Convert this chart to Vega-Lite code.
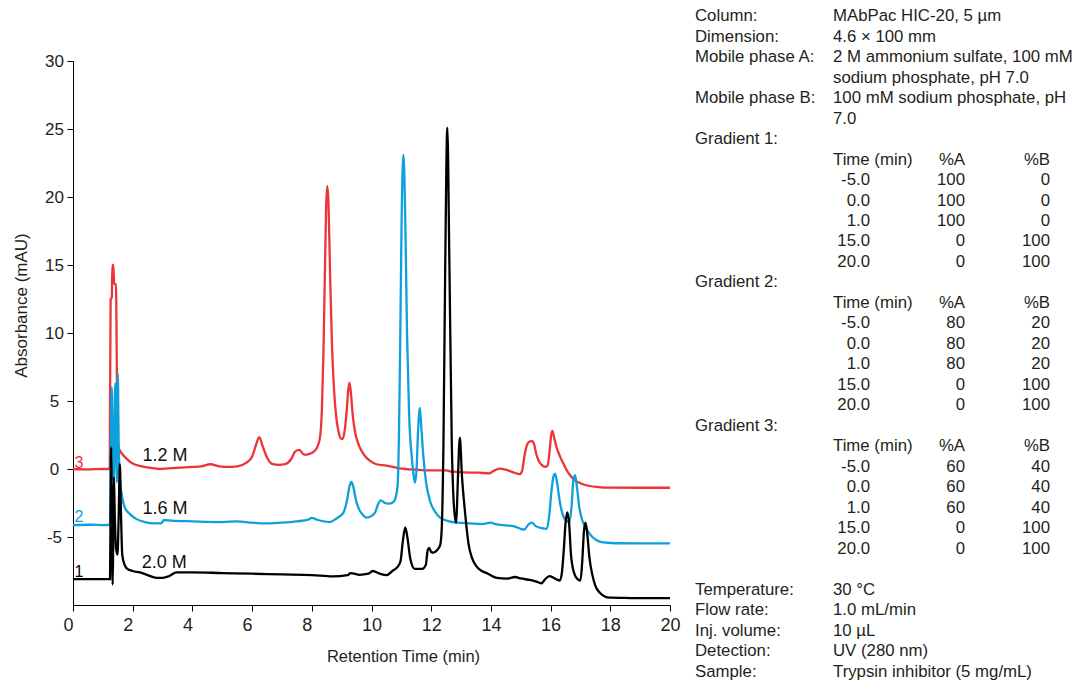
{
  "$schema": "https://vega.github.io/schema/vega-lite/v6.json",
  "padding": {"left": 12, "top": 8, "right": 0, "bottom": 0},
  "bounds": "flush",
  "spacing": 25,
  "config": {
    "font": "Liberation Sans",
    "view": {"stroke": null},
    "axis": {"grid": false, "domainColor": "#000000", "tickColor": "#000000", "labelColor": "#231f20", "titleColor": "#231f20", "titleFontWeight": "normal", "labelFont": "Liberation Sans", "titleFont": "Liberation Sans"}
  },
  "datasets": {
    "trace": [
      {"t":0,"a":0,"s":"3"},{"t":0.5,"a":-0.03,"s":"3"},{"t":1.0,"a":0,"s":"3"},{"t":1.23,"a":0,"s":"3"},{"t":1.26,"a":12.5,"s":"3"},{"t":1.30,"a":12.6,"s":"3"},{"t":1.32,"a":15.0,"s":"3"},{"t":1.35,"a":15.0,"s":"3"},{"t":1.38,"a":13.6,"s":"3"},{"t":1.44,"a":13.6,"s":"3"},{"t":1.47,"a":7,"s":"3"},{"t":1.50,"a":1.8,"s":"3"},{"t":1.56,"a":1.4,"s":"3"},{"t":1.65,"a":1.1,"s":"3"},{"t":1.8,"a":0.75,"s":"3"},{"t":2.0,"a":0.4,"s":"3"},{"t":2.3,"a":0.2,"s":"3"},{"t":2.6,"a":0.08,"s":"3"},{"t":2.9,"a":0.0,"s":"3"},{"t":3.2,"a":0.05,"s":"3"},{"t":3.6,"a":0.1,"s":"3"},{"t":4.0,"a":0.15,"s":"3"},{"t":4.3,"a":0.2,"s":"3"},{"t":4.6,"a":0.35,"s":"3"},{"t":4.9,"a":0.2,"s":"3"},{"t":5.2,"a":0.15,"s":"3"},{"t":5.5,"a":0.2,"s":"3"},{"t":5.8,"a":0.45,"s":"3"},{"t":6.0,"a":0.9,"s":"3"},{"t":6.12,"a":1.7,"s":"3"},{"t":6.24,"a":2.35,"s":"3"},{"t":6.35,"a":1.7,"s":"3"},{"t":6.5,"a":0.85,"s":"3"},{"t":6.7,"a":0.35,"s":"3"},{"t":6.9,"a":0.3,"s":"3"},{"t":7.1,"a":0.35,"s":"3"},{"t":7.3,"a":0.7,"s":"3"},{"t":7.45,"a":1.3,"s":"3"},{"t":7.58,"a":1.4,"s":"3"},{"t":7.75,"a":1.05,"s":"3"},{"t":7.9,"a":1.1,"s":"3"},{"t":8.08,"a":1.3,"s":"3"},{"t":8.2,"a":1.7,"s":"3"},{"t":8.28,"a":2.4,"s":"3"},{"t":8.34,"a":4.5,"s":"3"},{"t":8.39,"a":8.5,"s":"3"},{"t":8.44,"a":14.6,"s":"3"},{"t":8.48,"a":19.3,"s":"3"},{"t":8.52,"a":20.8,"s":"3"},{"t":8.56,"a":19.5,"s":"3"},{"t":8.61,"a":14.6,"s":"3"},{"t":8.67,"a":9.5,"s":"3"},{"t":8.74,"a":6.0,"s":"3"},{"t":8.82,"a":3.8,"s":"3"},{"t":8.9,"a":2.7,"s":"3"},{"t":8.97,"a":2.25,"s":"3"},{"t":9.03,"a":2.2,"s":"3"},{"t":9.1,"a":2.8,"s":"3"},{"t":9.17,"a":4.3,"s":"3"},{"t":9.22,"a":5.8,"s":"3"},{"t":9.26,"a":6.35,"s":"3"},{"t":9.31,"a":5.6,"s":"3"},{"t":9.37,"a":4.0,"s":"3"},{"t":9.45,"a":2.7,"s":"3"},{"t":9.55,"a":1.9,"s":"3"},{"t":9.65,"a":1.4,"s":"3"},{"t":9.8,"a":0.9,"s":"3"},{"t":9.95,"a":0.6,"s":"3"},{"t":10.17,"a":0.35,"s":"3"},{"t":10.5,"a":0.25,"s":"3"},{"t":10.95,"a":0.05,"s":"3"},{"t":11.5,"a":-0.05,"s":"3"},{"t":12.0,"a":-0.1,"s":"3"},{"t":12.5,"a":-0.1,"s":"3"},{"t":12.7,"a":-0.2,"s":"3"},{"t":13.1,"a":-0.25,"s":"3"},{"t":13.6,"a":-0.27,"s":"3"},{"t":13.95,"a":-0.32,"s":"3"},{"t":14.12,"a":-0.1,"s":"3"},{"t":14.3,"a":0.03,"s":"3"},{"t":14.5,"a":-0.05,"s":"3"},{"t":14.75,"a":-0.25,"s":"3"},{"t":14.97,"a":-0.38,"s":"3"},{"t":15.05,"a":-0.1,"s":"3"},{"t":15.12,"a":0.9,"s":"3"},{"t":15.2,"a":1.7,"s":"3"},{"t":15.28,"a":2.0,"s":"3"},{"t":15.38,"a":2.05,"s":"3"},{"t":15.45,"a":1.8,"s":"3"},{"t":15.52,"a":1.1,"s":"3"},{"t":15.6,"a":0.6,"s":"3"},{"t":15.7,"a":0.3,"s":"3"},{"t":15.82,"a":0.15,"s":"3"},{"t":15.9,"a":0.25,"s":"3"},{"t":15.97,"a":1.4,"s":"3"},{"t":16.02,"a":2.5,"s":"3"},{"t":16.06,"a":2.8,"s":"3"},{"t":16.12,"a":2.3,"s":"3"},{"t":16.2,"a":1.6,"s":"3"},{"t":16.3,"a":1.0,"s":"3"},{"t":16.45,"a":0.3,"s":"3"},{"t":16.6,"a":-0.3,"s":"3"},{"t":16.8,"a":-0.8,"s":"3"},{"t":17.0,"a":-1.05,"s":"3"},{"t":17.3,"a":-1.25,"s":"3"},{"t":17.6,"a":-1.33,"s":"3"},{"t":18.0,"a":-1.37,"s":"3"},{"t":19.0,"a":-1.38,"s":"3"},{"t":20.0,"a":-1.38,"s":"3"},
      {"t":0,"a":-4.12,"s":"2"},{"t":0.6,"a":-4.1,"s":"2"},{"t":1.0,"a":-4.12,"s":"2"},{"t":1.24,"a":-4.1,"s":"2"},{"t":1.27,"a":2.5,"s":"2"},{"t":1.30,"a":6.0,"s":"2"},{"t":1.33,"a":1.0,"s":"2"},{"t":1.36,"a":-1.0,"s":"2"},{"t":1.39,"a":3.5,"s":"2"},{"t":1.42,"a":6.3,"s":"2"},{"t":1.45,"a":0.5,"s":"2"},{"t":1.47,"a":-1.0,"s":"2"},{"t":1.50,"a":7.0,"s":"2"},{"t":1.53,"a":2.0,"s":"2"},{"t":1.57,"a":-0.7,"s":"2"},{"t":1.64,"a":-2.0,"s":"2"},{"t":1.74,"a":-2.85,"s":"2"},{"t":1.9,"a":-3.3,"s":"2"},{"t":2.1,"a":-3.65,"s":"2"},{"t":2.4,"a":-3.9,"s":"2"},{"t":2.75,"a":-4.0,"s":"2"},{"t":2.95,"a":-4.0,"s":"2"},{"t":3.05,"a":-3.75,"s":"2"},{"t":3.3,"a":-3.8,"s":"2"},{"t":4.0,"a":-3.85,"s":"2"},{"t":5.0,"a":-3.9,"s":"2"},{"t":5.5,"a":-3.85,"s":"2"},{"t":6.0,"a":-3.95,"s":"2"},{"t":6.5,"a":-4.0,"s":"2"},{"t":7.0,"a":-3.95,"s":"2"},{"t":7.5,"a":-3.85,"s":"2"},{"t":7.9,"a":-3.7,"s":"2"},{"t":8.0,"a":-3.6,"s":"2"},{"t":8.2,"a":-3.75,"s":"2"},{"t":8.6,"a":-3.9,"s":"2"},{"t":8.85,"a":-3.6,"s":"2"},{"t":9.05,"a":-3.25,"s":"2"},{"t":9.18,"a":-2.3,"s":"2"},{"t":9.27,"a":-1.2,"s":"2"},{"t":9.33,"a":-0.95,"s":"2"},{"t":9.4,"a":-1.4,"s":"2"},{"t":9.48,"a":-2.3,"s":"2"},{"t":9.58,"a":-2.95,"s":"2"},{"t":9.7,"a":-3.35,"s":"2"},{"t":9.84,"a":-3.58,"s":"2"},{"t":10.0,"a":-3.45,"s":"2"},{"t":10.12,"a":-3.2,"s":"2"},{"t":10.22,"a":-2.6,"s":"2"},{"t":10.31,"a":-2.3,"s":"2"},{"t":10.45,"a":-2.5,"s":"2"},{"t":10.57,"a":-2.55,"s":"2"},{"t":10.72,"a":-2.45,"s":"2"},{"t":10.82,"a":-2.0,"s":"2"},{"t":10.88,"a":-1.0,"s":"2"},{"t":10.92,"a":2.5,"s":"2"},{"t":10.96,"a":9.0,"s":"2"},{"t":11.01,"a":18.5,"s":"2"},{"t":11.07,"a":23.1,"s":"2"},{"t":11.13,"a":18.5,"s":"2"},{"t":11.19,"a":10.0,"s":"2"},{"t":11.26,"a":4.0,"s":"2"},{"t":11.35,"a":0.85,"s":"2"},{"t":11.42,"a":-0.6,"s":"2"},{"t":11.46,"a":-1.0,"s":"2"},{"t":11.51,"a":0.0,"s":"2"},{"t":11.56,"a":2.8,"s":"2"},{"t":11.62,"a":4.5,"s":"2"},{"t":11.67,"a":3.0,"s":"2"},{"t":11.74,"a":0.85,"s":"2"},{"t":11.83,"a":-1.0,"s":"2"},{"t":11.96,"a":-2.35,"s":"2"},{"t":12.15,"a":-3.2,"s":"2"},{"t":12.3,"a":-3.58,"s":"2"},{"t":12.6,"a":-3.85,"s":"2"},{"t":12.9,"a":-3.95,"s":"2"},{"t":13.3,"a":-4.0,"s":"2"},{"t":13.7,"a":-4.05,"s":"2"},{"t":14.0,"a":-3.95,"s":"2"},{"t":14.15,"a":-4.05,"s":"2"},{"t":14.5,"a":-4.15,"s":"2"},{"t":14.75,"a":-4.2,"s":"2"},{"t":15.0,"a":-4.4,"s":"2"},{"t":15.12,"a":-4.45,"s":"2"},{"t":15.25,"a":-4.1,"s":"2"},{"t":15.37,"a":-3.95,"s":"2"},{"t":15.5,"a":-4.2,"s":"2"},{"t":15.7,"a":-4.35,"s":"2"},{"t":15.87,"a":-4.4,"s":"2"},{"t":15.95,"a":-3.5,"s":"2"},{"t":16.03,"a":-1.6,"s":"2"},{"t":16.1,"a":-0.5,"s":"2"},{"t":16.15,"a":-0.35,"s":"2"},{"t":16.21,"a":-0.9,"s":"2"},{"t":16.3,"a":-2.3,"s":"2"},{"t":16.4,"a":-3.3,"s":"2"},{"t":16.52,"a":-3.8,"s":"2"},{"t":16.63,"a":-3.9,"s":"2"},{"t":16.7,"a":-2.8,"s":"2"},{"t":16.76,"a":-0.9,"s":"2"},{"t":16.82,"a":-0.45,"s":"2"},{"t":16.88,"a":-1.3,"s":"2"},{"t":16.96,"a":-2.8,"s":"2"},{"t":17.05,"a":-3.7,"s":"2"},{"t":17.2,"a":-4.4,"s":"2"},{"t":17.4,"a":-5.0,"s":"2"},{"t":17.6,"a":-5.3,"s":"2"},{"t":17.85,"a":-5.42,"s":"2"},{"t":18.2,"a":-5.46,"s":"2"},{"t":19.0,"a":-5.47,"s":"2"},{"t":20.0,"a":-5.47,"s":"2"},
      {"t":0,"a":-8.1,"s":"1"},{"t":0.6,"a":-8.1,"s":"1"},{"t":1.0,"a":-8.1,"s":"1"},{"t":1.24,"a":-8.1,"s":"1"},{"t":1.26,"a":-2.5,"s":"1"},{"t":1.28,"a":1.6,"s":"1"},{"t":1.30,"a":-3.0,"s":"1"},{"t":1.33,"a":-8.5,"s":"1"},{"t":1.35,"a":-4.5,"s":"1"},{"t":1.37,"a":-0.6,"s":"1"},{"t":1.40,"a":-3.5,"s":"1"},{"t":1.44,"a":-5.8,"s":"1"},{"t":1.49,"a":-6.3,"s":"1"},{"t":1.53,"a":-3.5,"s":"1"},{"t":1.57,"a":0.35,"s":"1"},{"t":1.61,"a":-3.5,"s":"1"},{"t":1.65,"a":-6.3,"s":"1"},{"t":1.72,"a":-7.0,"s":"1"},{"t":1.8,"a":-7.3,"s":"1"},{"t":2.0,"a":-7.5,"s":"1"},{"t":2.24,"a":-7.6,"s":"1"},{"t":2.5,"a":-7.8,"s":"1"},{"t":2.8,"a":-8.0,"s":"1"},{"t":3.0,"a":-8.0,"s":"1"},{"t":3.2,"a":-7.9,"s":"1"},{"t":3.47,"a":-7.6,"s":"1"},{"t":4.0,"a":-7.6,"s":"1"},{"t":5.0,"a":-7.65,"s":"1"},{"t":6.0,"a":-7.7,"s":"1"},{"t":7.0,"a":-7.75,"s":"1"},{"t":8.0,"a":-7.8,"s":"1"},{"t":8.7,"a":-7.9,"s":"1"},{"t":9.2,"a":-7.8,"s":"1"},{"t":9.3,"a":-7.65,"s":"1"},{"t":9.6,"a":-7.78,"s":"1"},{"t":9.9,"a":-7.7,"s":"1"},{"t":10.04,"a":-7.5,"s":"1"},{"t":10.28,"a":-7.7,"s":"1"},{"t":10.51,"a":-7.8,"s":"1"},{"t":10.7,"a":-7.5,"s":"1"},{"t":10.85,"a":-7.25,"s":"1"},{"t":10.97,"a":-6.8,"s":"1"},{"t":11.05,"a":-5.3,"s":"1"},{"t":11.13,"a":-4.3,"s":"1"},{"t":11.2,"a":-5.0,"s":"1"},{"t":11.3,"a":-6.6,"s":"1"},{"t":11.45,"a":-7.35,"s":"1"},{"t":11.7,"a":-7.35,"s":"1"},{"t":11.82,"a":-7.05,"s":"1"},{"t":11.88,"a":-6.0,"s":"1"},{"t":11.93,"a":-5.8,"s":"1"},{"t":12.0,"a":-6.1,"s":"1"},{"t":12.07,"a":-6.15,"s":"1"},{"t":12.2,"a":-5.95,"s":"1"},{"t":12.3,"a":-5.6,"s":"1"},{"t":12.35,"a":-4.5,"s":"1"},{"t":12.41,"a":1.8,"s":"1"},{"t":12.47,"a":15.0,"s":"1"},{"t":12.54,"a":25.1,"s":"1"},{"t":12.61,"a":15.0,"s":"1"},{"t":12.69,"a":1.8,"s":"1"},{"t":12.74,"a":-1.86,"s":"1"},{"t":12.8,"a":-3.6,"s":"1"},{"t":12.84,"a":-3.95,"s":"1"},{"t":12.89,"a":-1.0,"s":"1"},{"t":12.96,"a":2.3,"s":"1"},{"t":13.03,"a":-0.5,"s":"1"},{"t":13.13,"a":-3.1,"s":"1"},{"t":13.25,"a":-5.5,"s":"1"},{"t":13.36,"a":-6.5,"s":"1"},{"t":13.5,"a":-7.1,"s":"1"},{"t":13.63,"a":-7.4,"s":"1"},{"t":13.9,"a":-7.7,"s":"1"},{"t":14.2,"a":-8.0,"s":"1"},{"t":14.53,"a":-8.06,"s":"1"},{"t":14.81,"a":-7.94,"s":"1"},{"t":15.0,"a":-8.05,"s":"1"},{"t":15.31,"a":-8.16,"s":"1"},{"t":15.55,"a":-8.3,"s":"1"},{"t":15.7,"a":-8.4,"s":"1"},{"t":15.82,"a":-8.1,"s":"1"},{"t":15.96,"a":-7.87,"s":"1"},{"t":16.1,"a":-8.0,"s":"1"},{"t":16.31,"a":-8.2,"s":"1"},{"t":16.38,"a":-7.6,"s":"1"},{"t":16.44,"a":-6.0,"s":"1"},{"t":16.5,"a":-4.0,"s":"1"},{"t":16.56,"a":-3.2,"s":"1"},{"t":16.62,"a":-4.0,"s":"1"},{"t":16.68,"a":-6.2,"s":"1"},{"t":16.78,"a":-7.6,"s":"1"},{"t":16.9,"a":-8.1,"s":"1"},{"t":17.0,"a":-8.2,"s":"1"},{"t":17.06,"a":-6.8,"s":"1"},{"t":17.12,"a":-4.5,"s":"1"},{"t":17.17,"a":-3.95,"s":"1"},{"t":17.23,"a":-4.8,"s":"1"},{"t":17.3,"a":-6.5,"s":"1"},{"t":17.4,"a":-7.8,"s":"1"},{"t":17.5,"a":-8.6,"s":"1"},{"t":17.65,"a":-9.1,"s":"1"},{"t":17.8,"a":-9.35,"s":"1"},{"t":17.99,"a":-9.46,"s":"1"},{"t":18.5,"a":-9.48,"s":"1"},{"t":19.0,"a":-9.5,"s":"1"},{"t":20.0,"a":-9.5,"s":"1"}
    ],
    "info": [
      {"line":0,"col":0,"text":"Column:"},{"line":0,"col":1,"text":"MAbPac HIC-20, 5 µm"},
      {"line":1,"col":0,"text":"Dimension:"},{"line":1,"col":1,"text":"4.6 × 100 mm"},
      {"line":2,"col":0,"text":"Mobile phase A:"},{"line":2,"col":1,"text":"2 M ammonium sulfate, 100 mM"},
      {"line":3,"col":1,"text":"sodium phosphate, pH 7.0"},
      {"line":4,"col":0,"text":"Mobile phase B:"},{"line":4,"col":1,"text":"100 mM sodium phosphate, pH"},
      {"line":5,"col":1,"text":"7.0"},
      {"line":6,"col":0,"text":"Gradient 1:"},
      {"line":7,"col":1,"text":"Time (min)"},{"line":7,"col":3,"text":"%A"},{"line":7,"col":4,"text":"%B"},
      {"line":8,"col":2,"text":"-5.0"},{"line":8,"col":3,"text":"100"},{"line":8,"col":4,"text":"0"},
      {"line":9,"col":2,"text":"0.0"},{"line":9,"col":3,"text":"100"},{"line":9,"col":4,"text":"0"},
      {"line":10,"col":2,"text":"1.0"},{"line":10,"col":3,"text":"100"},{"line":10,"col":4,"text":"0"},
      {"line":11,"col":2,"text":"15.0"},{"line":11,"col":3,"text":"0"},{"line":11,"col":4,"text":"100"},
      {"line":12,"col":2,"text":"20.0"},{"line":12,"col":3,"text":"0"},{"line":12,"col":4,"text":"100"},
      {"line":13,"col":0,"text":"Gradient 2:"},
      {"line":14,"col":1,"text":"Time (min)"},{"line":14,"col":3,"text":"%A"},{"line":14,"col":4,"text":"%B"},
      {"line":15,"col":2,"text":"-5.0"},{"line":15,"col":3,"text":"80"},{"line":15,"col":4,"text":"20"},
      {"line":16,"col":2,"text":"0.0"},{"line":16,"col":3,"text":"80"},{"line":16,"col":4,"text":"20"},
      {"line":17,"col":2,"text":"1.0"},{"line":17,"col":3,"text":"80"},{"line":17,"col":4,"text":"20"},
      {"line":18,"col":2,"text":"15.0"},{"line":18,"col":3,"text":"0"},{"line":18,"col":4,"text":"100"},
      {"line":19,"col":2,"text":"20.0"},{"line":19,"col":3,"text":"0"},{"line":19,"col":4,"text":"100"},
      {"line":20,"col":0,"text":"Gradient 3:"},
      {"line":21,"col":1,"text":"Time (min)"},{"line":21,"col":3,"text":"%A"},{"line":21,"col":4,"text":"%B"},
      {"line":22,"col":2,"text":"-5.0"},{"line":22,"col":3,"text":"60"},{"line":22,"col":4,"text":"40"},
      {"line":23,"col":2,"text":"0.0"},{"line":23,"col":3,"text":"60"},{"line":23,"col":4,"text":"40"},
      {"line":24,"col":2,"text":"1.0"},{"line":24,"col":3,"text":"60"},{"line":24,"col":4,"text":"40"},
      {"line":25,"col":2,"text":"15.0"},{"line":25,"col":3,"text":"0"},{"line":25,"col":4,"text":"100"},
      {"line":26,"col":2,"text":"20.0"},{"line":26,"col":3,"text":"0"},{"line":26,"col":4,"text":"100"},
      {"line":28,"col":0,"text":"Temperature:"},{"line":28,"col":1,"text":"30 °C"},
      {"line":29,"col":0,"text":"Flow rate:"},{"line":29,"col":1,"text":"1.0 mL/min"},
      {"line":30,"col":0,"text":"Inj. volume:"},{"line":30,"col":1,"text":"10 µL"},
      {"line":31,"col":0,"text":"Detection:"},{"line":31,"col":1,"text":"UV (280 nm)"},
      {"line":32,"col":0,"text":"Sample:"},{"line":32,"col":1,"text":"Trypsin inhibitor (5 mg/mL)"}
    ]
  },
  "hconcat": [
    {
      "width": 597,
      "height": 544,
      "layer": [
        {
          "data": {"name": "trace"},
          "mark": {"type": "line", "strokeWidth": 2.3, "interpolate": "monotone"},
          "encoding": {
            "x": {"field": "t", "type": "quantitative",
              "scale": {"domain": [0, 20], "nice": false, "zero": false},
              "axis": {"title": "Retention Time (min)", "values": [0,2,4,6,8,10,12,14,16,18,20], "labelFontSize": 18, "titleFontSize": 16.5, "tickSize": 6, "labelPadding": 5, "labelAlign": "left", "labelOffset": -10, "labelFlush": false, "titleX": 330, "titleY": 56, "titleBaseline": "alphabetic", "titleAlign": "center", "titleAnchor": null}},
            "y": {"field": "a", "type": "quantitative",
              "scale": {"domain": [-10, 30], "nice": false, "zero": false},
              "axis": {"title": "Absorbance (mAU)", "values": [-5,0,5,10,15,20,25,30], "labelFontSize": 17, "titleFontSize": 17, "tickSize": 6, "labelPadding": 13, "labelAlign": "center", "labelFlush": false, "labelExpr": "replace(datum.label, '−', '-')", "titleX": -47, "titleY": 244, "titleBaseline": "alphabetic", "titleAlign": "center", "titleAngle": 270}},
            "color": {"field": "s", "type": "nominal",
              "scale": {"domain": ["3", "2", "1"], "range": ["#ee3338", "#0ea0dc", "#000000"]},
              "legend": null}
          }
        },
        {
          "data": {"values": [
            {"t": 0.05, "a": 0.1, "s": "3", "label": "3"},
            {"t": 0.05, "a": -3.9, "s": "2", "label": "2"},
            {"t": 0.05, "a": -7.92, "s": "1", "label": "1"}
          ]},
          "mark": {"type": "text", "align": "left", "baseline": "alphabetic", "fontSize": 16},
          "encoding": {
            "x": {"field": "t", "type": "quantitative"},
            "y": {"field": "a", "type": "quantitative"},
            "text": {"field": "label"},
            "color": {"field": "s", "type": "nominal", "legend": null}
          }
        },
        {
          "data": {"values": [
            {"t": 2.33, "a": 0.59, "label": "1.2 M"},
            {"t": 2.33, "a": -3.29, "label": "1.6 M"},
            {"t": 2.3, "a": -7.3, "label": "2.0 M"}
          ]},
          "mark": {"type": "text", "align": "left", "baseline": "alphabetic", "fontSize": 18, "color": "#111111"},
          "encoding": {
            "x": {"field": "t", "type": "quantitative"},
            "y": {"field": "a", "type": "quantitative"},
            "text": {"field": "label"}
          }
        }
      ]
    },
    {
      "width": 360,
      "height": 544,
      "data": {"name": "info"},
      "encoding": {
        "x": {"field": "col", "type": "quantitative", "scale": {"domain": [0, 1, 2, 3, 4], "range": [0, 138, 175, 270, 355], "nice": false, "zero": false}, "axis": null},
        "y": {"field": "line", "type": "quantitative", "scale": {"domain": [2.195, 28.732], "reverse": true, "nice": false, "zero": false}, "axis": null},
        "text": {"field": "text"}
      },
      "layer": [
        {"transform": [{"filter": "datum.col <= 1"}], "mark": {"type": "text", "align": "left", "baseline": "middle", "fontSize": 16.8, "color": "#231f20"}},
        {"transform": [{"filter": "datum.col >= 2"}], "mark": {"type": "text", "align": "right", "baseline": "middle", "fontSize": 16.8, "color": "#231f20"}}
      ]
    }
  ]
}
